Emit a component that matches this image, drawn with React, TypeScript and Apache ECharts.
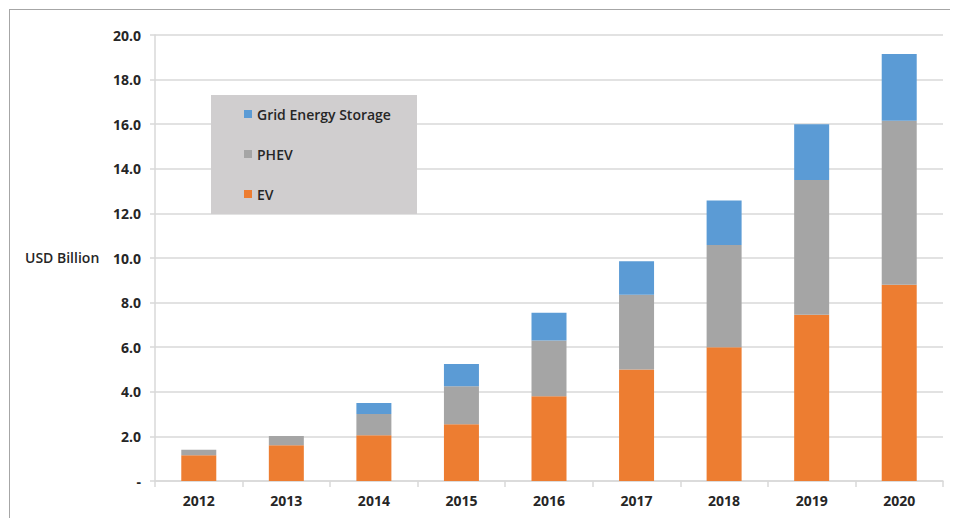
import React, { useEffect, useRef } from "react";
import * as echarts from "echarts";

const years = ["2012", "2013", "2014", "2015", "2016", "2017", "2018", "2019", "2020"];
const evValues = [1.15, 1.6, 2.05, 2.55, 3.8, 5.0, 6.0, 7.45, 8.8];
const phevValues = [0.25, 0.42, 0.95, 1.7, 2.5, 3.35, 4.58, 6.05, 7.35];
const gridValues = [0, 0, 0.5, 1.0, 1.25, 1.5, 2.0, 2.5, 3.0];
const legendNames = ["Grid Energy Storage", "PHEV", "EV"];

const FONT = "'Open Sans', 'Liberation Sans', sans-serif";
const TEXT = "#262626";

export default function App() {
  const ref = useRef<HTMLDivElement>(null);
  useEffect(() => {
    if (!ref.current) return;
    const chart = echarts.init(ref.current, null, { renderer: "svg" });
    const barBase = { type: "bar", stack: "total", barWidth: 35, emphasis: { disabled: true } };
    chart.setOption({
      animation: false,
      backgroundColor: "#ffffff",
      textStyle: { fontFamily: FONT },
      grid: { left: 147, right: 15, top: 27, bottom: 37, containLabel: false },
      legend: {
        data: legendNames,
        orient: "vertical",
        left: 231,
        top: 93,
        z: 20,
        itemWidth: 8,
        itemHeight: 8,
        itemGap: 24,
        icon: "rect",
        selectedMode: false,
        textStyle: { fontFamily: FONT, fontSize: 14, fontWeight: 600, color: TEXT, lineHeight: 16, height: 16 },
      },
      graphic: [
        { type: "line", shape: { x1: 1, y1: 1.5, x2: 950, y2: 1.5 }, style: { stroke: "#a6a6a6", lineWidth: 1 }, z: 0 },
        { type: "line", shape: { x1: 1.5, y1: 1, x2: 1.5, y2: 510 }, style: { stroke: "#a6a6a6", lineWidth: 1 }, z: 0 },
        { type: "rect", shape: { x: 203, y: 87, width: 206, height: 119 }, style: { fill: "#d0cecf" }, z: 3 },
        {
          type: "text",
          left: 17,
          top: 242,
          style: { text: "USD Billion", font: `600 14px ${FONT}`, fill: TEXT },
        },
      ],
      xAxis: {
        type: "category",
        data: years,
        axisLine: { lineStyle: { color: "#d9d9d9", width: 1.5 } },
        axisTick: { show: true, length: 6, lineStyle: { color: "#d9d9d9", width: 1.5 } },
        axisLabel: { color: TEXT, fontSize: 14, fontWeight: "bold", fontFamily: FONT, margin: 12 },
      },
      yAxis: {
        type: "value",
        min: 0,
        max: 20,
        interval: 2,
        axisLine: { show: true, lineStyle: { color: "#d9d9d9", width: 1.5 } },
        axisTick: { show: true, length: 5, lineStyle: { color: "#d9d9d9", width: 1.5 } },
        splitLine: { lineStyle: { color: "#d9d9d9", width: 1.5 } },
        axisLabel: {
          color: TEXT,
          fontSize: 14,
          fontWeight: "bold",
          fontFamily: FONT,
          margin: 14,
          formatter: (v: number) => (v === 0 ? "-" : v.toFixed(1)),
        },
      },
      series: [
        { ...barBase, name: "EV", data: evValues, itemStyle: { color: "#ed7d31" } },
        { ...barBase, name: "PHEV", data: phevValues, itemStyle: { color: "#a5a5a5" } },
        { ...barBase, name: "Grid Energy Storage", data: gridValues, itemStyle: { color: "#5b9bd5" } },
      ],
    });
    return () => chart.dispose();
  }, []);
  return <div ref={ref} style={{ width: 950, height: 510 }} />;
}
